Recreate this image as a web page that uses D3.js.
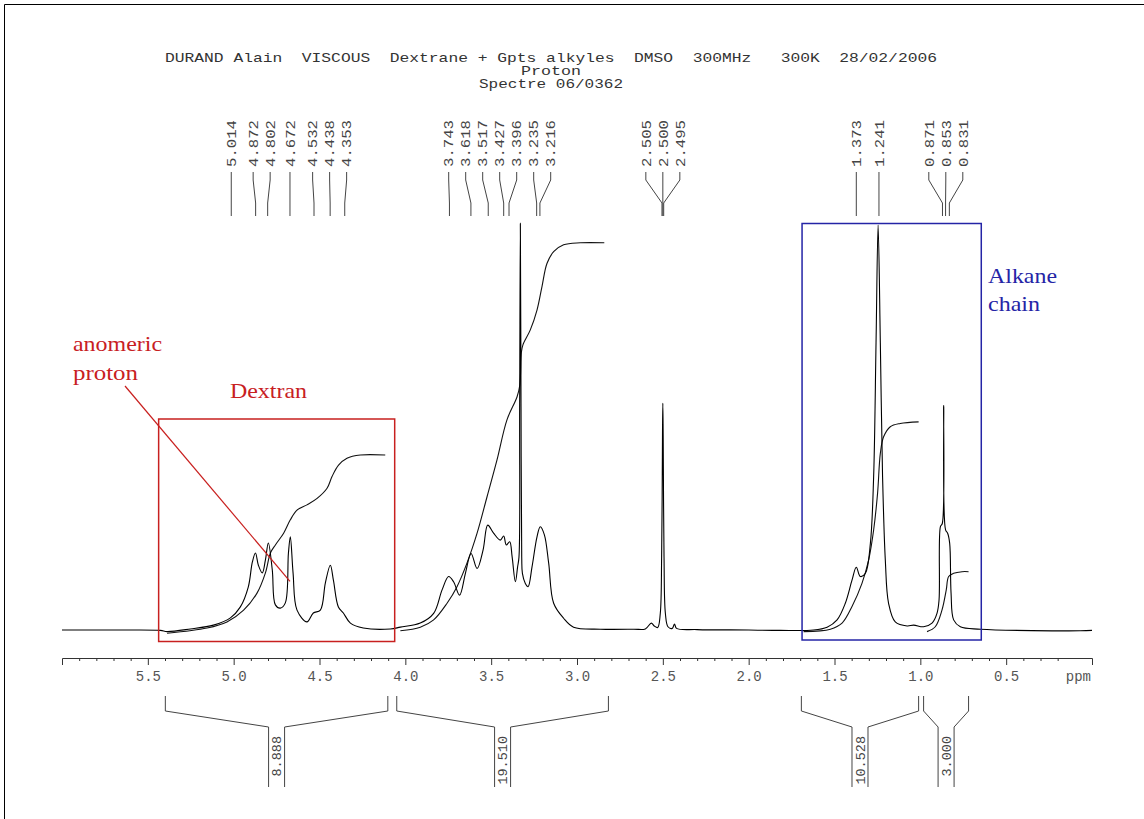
<!DOCTYPE html>
<html><head><meta charset="utf-8">
<script src="https://cdn.jsdelivr.net/npm/d3@7"></script>
<style>body{margin:0;background:#fff}svg{display:block}</style>
</head><body>
<svg id="c" width="1144" height="819"></svg>
<script>
// ---------------- DATA ----------------
const titleLines = [
  "DURAND Alain  VISCOUS  Dextrane + Gpts alkyles  DMSO  300MHz   300K  28/02/2006",
  "Proton",
  "Spectre 06/0362"
];
const peakPPM = [5.014,4.872,4.802,4.672,4.532,4.438,4.353,
                 3.743,3.618,3.517,3.427,3.396,3.235,3.216,
                 2.505,2.500,2.495,
                 1.373,1.241,
                 0.871,0.853,0.831];
const peakLabels = ["5.014","4.872","4.802","4.672","4.532","4.438","4.353",
                    "3.743","3.618","3.517","3.427","3.396","3.235","3.216",
                    "2.505","2.500","2.495",
                    "1.373","1.241",
                    "0.871","0.853","0.831"];
const tickValues = [5.5,5.0,4.5,4.0,3.5,3.0,2.5,2.0,1.5,1.0,0.5];
const tickLabels = ["5.5","5.0","4.5","4.0","3.5","3.0","2.5","2.0","1.5","1.0","0.5"];
const unitLabel = "ppm";
const integralRanges = [[5.398,4.102],[4.050,2.817],[1.693,1.010],[0.981,0.719]];
const integralValues = ["8.888","19.510","10.528","3.000"];

// spectrum: [ppm, relative intensity %]
const spectrum = [
[6.00,0],[5.66,0],[5.427,-0.1],[5.388,-0.4],[5.252,0.25],[5.118,1.2],[5.019,3.0],[4.961,5.7],
[4.915,10.6],[4.891,16.8],[4.873,19.0],[4.856,16.0],[4.833,14.1],[4.815,17.3],[4.798,21.5],
[4.775,14.8],[4.757,6.2],[4.728,5.4],[4.699,6.7],[4.681,19.0],[4.670,23.0],[4.654,14.1],
[4.631,4.9],[4.573,2.0],[4.536,4.2],[4.495,4.9],[4.466,11.6],[4.437,16.0],[4.419,12.3],
[4.390,5.7],[4.361,4.2],[4.320,1.7],[4.245,0.5],[4.087,0.25],[4.029,0.7],[3.913,1.7],
[3.835,4.1],[3.786,9.9],[3.748,13.2],[3.719,11.9],[3.684,8.6],[3.650,14.0],[3.617,18.9],
[3.582,15.2],[3.547,19.8],[3.520,25.9],[3.486,23.9],[3.447,22.2],[3.427,23.2],[3.412,21.0],
[3.392,21.8],[3.378,18.1],[3.359,11.9],[3.346,15.6],[3.338,18],[3.334,55],[3.330,100.4],
[3.326,55],[3.322,18],[3.318,14],[3.301,11.5],[3.285,10.7],[3.262,15.6],[3.233,23.0],
[3.214,25.5],[3.190,23.5],[3.165,16.5],[3.136,6.6],[3.078,2.9],[3.020,0.7],[2.864,0.2],
[2.670,0.2],[2.602,0.25],[2.567,1.7],[2.550,1.0],[2.530,0.6],[2.515,4],[2.507,18],
[2.502,48],[2.500,56],[2.498,48],[2.493,18],[2.485,4],[2.470,0.8],[2.445,0.4],[2.432,1.5],
[2.420,0.4],[2.30,0.1],[2.00,0],[1.816,-0.1],[1.622,0],[1.543,0.7],[1.485,2.5],[1.437,6.6],
[1.398,12.3],[1.373,15.5],[1.350,13.2],[1.320,14.0],[1.291,21.4],[1.272,37.9],[1.258,70.9],
[1.246,100],[1.233,70.9],[1.220,37.9],[1.204,17.3],[1.185,6.6],[1.146,2.0],[1.077,1.0],
[1.039,1.2],[0.981,0.8],[0.932,1.7],[0.903,4.1],[0.891,7.4],[0.883,25.5],[0.872,26.3],
[0.864,55.4],[0.853,24.7],[0.841,23.9],[0.829,21.4],[0.821,9.1],[0.806,2.5],[0.767,0.8],
[0.650,0.2],[0.068,-0.2],[0.00,-0.1]
];
const integral1 = [[5.388,-0.8],[5.155,0.5],[5.039,2.0],[4.942,4.9],[4.864,9.1],[4.815,14.1],
[4.786,19.0],[4.757,21.0],[4.709,23.9],[4.670,27.2],[4.631,29.6],[4.573,30.9],[4.514,32.5],
[4.456,35.0],[4.427,37.9],[4.389,40.7],[4.340,42.4],[4.262,43.2],[4.117,43.2]];
const integral2 = [[4.029,-0.2],[3.913,0.7],[3.835,2.5],[3.757,6.6],[3.699,10.7],[3.641,16.5],
[3.582,23.9],[3.524,32.9],[3.466,42.0],[3.408,51.9],[3.349,57.6],[3.333,60.5],[3.324,68.6],
[3.315,70.4],[3.272,74.1],[3.233,79.0],[3.204,84.8],[3.175,90.5],[3.136,93.4],[3.078,95.1],
[2.981,95.6],[2.841,95.6]];
const integral3 = [[1.680,-0.4],[1.524,0.2],[1.456,1.7],[1.398,5.8],[1.340,11.5],[1.301,17.3],
[1.272,24.7],[1.249,33.8],[1.233,43.6],[1.214,47.7],[1.175,50.2],[1.117,51.0],[1.010,51.4]];
const integral4 = [[0.961,-0.4],[0.913,0.8],[0.874,4.9],[0.849,9.9],[0.835,13.2],[0.806,14.0],
[0.757,14.4],[0.719,14.4]];
const integrals = [integral1, integral2, integral3, integral4];

// ---------------- DRAW ----------------
const svg = d3.select("#c");
const mono = "'Liberation Mono','Courier New',monospace";
const serif = "'Liberation Serif','Times New Roman',serif";

// page frame (top + left)
svg.append("path").attr("d","M4.5,819 V4.5 H1144").attr("fill","none").attr("stroke","#000").attr("stroke-width",1);

const x = d3.scaleLinear().domain([6.0, 0.0]).range([62, 1092]);
const y = d3.scaleLinear().domain([0, 100]).range([630, 225]);

// title
const tBase = [62, 75, 88];
const tLen = [772, 60, 144];
titleLines.forEach((t,i)=>{
  svg.append("text").attr("x",551).attr("y",tBase[i])
    .attr("text-anchor","middle").attr("font-family",mono).attr("font-size",13)
    .attr("fill","#333").style("white-space","pre")
    .attr("textLength",tLen[i]).attr("lengthAdjust","spacingAndGlyphs").text(t);
});

// peak labels with spreading
const gap = 17;
const px = peakPPM.map(p=>x(p));
let clusters = px.map((v,i)=>({pos:v, sum:v, n:1, idx:[i]}));
let changed = true;
while(changed){
  changed=false;
  for(let i=0;i<clusters.length-1;i++){
    const a=clusters[i], b=clusters[i+1];
    if(b.pos - (a.pos+(a.n-1)*gap) < gap){
      const m={sum:a.sum+b.sum, n:a.n+b.n, idx:a.idx.concat(b.idx)};
      m.pos = m.sum/m.n - (m.n-1)*gap/2;
      clusters.splice(i,2,m); changed=true; break;
    }
  }
}
const labelX = [];
clusters.forEach(c=>c.idx.forEach((id,k)=>labelX[id]=c.pos+k*gap));

const gp = svg.append("g");
peakPPM.forEach((p,i)=>{
  gp.append("path")
    .attr("d",`M${labelX[i]},172 V180 L${px[i]},203 V216`)
    .attr("fill","none").attr("stroke","#444").attr("stroke-width",1);
  gp.append("text").attr("transform",`translate(${labelX[i]},167) rotate(-90)`)
    .attr("dy","0.35em").attr("font-family",mono).attr("font-size",13.5)
    .attr("textLength",47).attr("lengthAdjust","spacingAndGlyphs")
    .attr("fill","#444").text(peakLabels[i]);
});

// integral curves
const line = d3.line().x(d=>x(d[0])).y(d=>y(d[1])).curve(d3.curveCatmullRom.alpha(0.5));
integrals.forEach(arr=>{
  svg.append("path").datum(arr).attr("d",line).attr("fill","none")
    .attr("stroke","#111").attr("stroke-width",1.1);
});
// spectrum
svg.append("path").datum(spectrum).attr("d",line).attr("fill","none")
  .attr("stroke","#000").attr("stroke-width",1.1);

// axis
const axisY = 658;
const minor = d3.range(59,1,-1).map(v=>v/10).filter(v=>Math.abs(v*2-Math.round(v*2))>1e-6);
svg.append("g").attr("transform",`translate(0,${axisY})`)
  .call(d3.axisBottom(x).tickValues(minor).tickSize(3).tickSizeOuter(0).tickFormat(""))
  .call(g=>g.select(".domain").remove())
  .call(g=>g.selectAll("line").attr("stroke","#333"));
const ax = svg.append("g").attr("transform",`translate(0,${axisY})`)
  .call(d3.axisBottom(x).tickValues(tickValues).tickSize(7).tickSizeOuter(7).tickPadding(6)
    .tickFormat((d,i)=>tickLabels[i]));
ax.select(".domain").attr("stroke","#333");
ax.selectAll("line").attr("stroke","#333");
ax.selectAll("text").attr("font-family",mono).attr("font-size",14).attr("fill","#555");
svg.append("text").attr("x",x(0)-1).attr("y",axisY+23).attr("text-anchor","end")
  .attr("font-family",mono).attr("font-size",14).attr("fill","#555").text(unitLabel);

// integral brackets
integralRanges.forEach((r,i)=>{
  const x0=x(r[0]), x1=x(r[1]), cx=(x0+x1)/2, h=8;
  svg.append("path")
    .attr("d",`M${x0},696 V711 L${cx-h},727 V787 M${x1},696 V711 L${cx+h},727 V787`)
    .attr("fill","none").attr("stroke","#444").attr("stroke-width",1);
  svg.append("text").attr("transform",`translate(${cx},736) rotate(-90)`)
    .attr("dy","0.35em").attr("text-anchor","end").attr("font-family",mono)
    .attr("font-size",13.5).attr("fill","#444").text(integralValues[i]);
});

// annotations
const red = "#c8201f", blue = "#2424a6";
svg.append("rect").attr("x",x(5.437)).attr("y",419).attr("width",x(4.062)-x(5.437)).attr("height",222.5)
  .attr("fill","none").attr("stroke",red).attr("stroke-width",1.5);
svg.append("line").attr("x1",125).attr("y1",386).attr("x2",x(4.672)).attr("y2",y(12))
  .attr("stroke",red).attr("stroke-width",1.2);
function label(t,xx,yy,w,col){
  svg.append("text").attr("x",xx).attr("y",yy).attr("font-family",serif).attr("font-size",21)
    .attr("fill",col).attr("textLength",w).attr("lengthAdjust","spacingAndGlyphs").text(t);
}
label("anomeric",73,351,89,red);
label("proton",73,380,65,red);
label("Dextran",230,398,77,red);
svg.append("rect").attr("x",x(1.689)).attr("y",223.5).attr("width",x(0.645)-x(1.689)).attr("height",416.5)
  .attr("fill","none").attr("stroke",blue).attr("stroke-width",1.5);
label("Alkane",988,283,69,blue);
label("chain",988,311,52,blue);
</script>
</body></html>
